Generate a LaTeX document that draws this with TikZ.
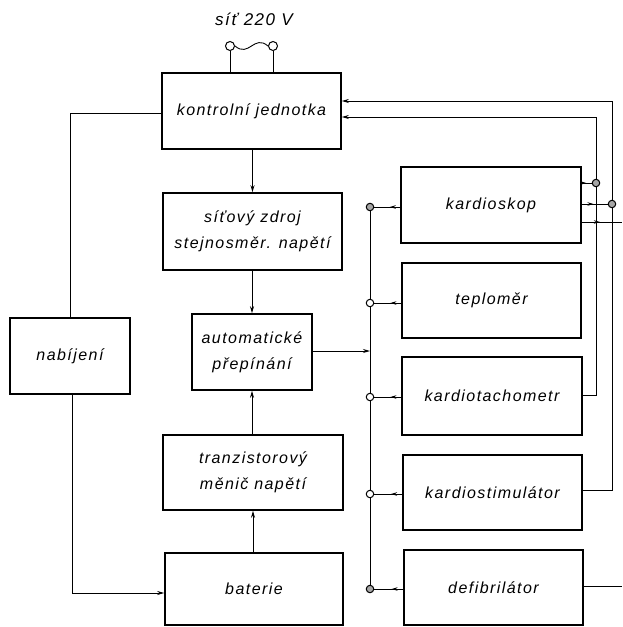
\documentclass[tikz,border=0pt]{standalone}
\usepackage{fontspec}
\setmainfont{Liberation Sans}[LetterSpace=9]
\usetikzlibrary{arrows.meta,decorations.markings}
\tikzset{
  box/.style={draw, line width=1.6pt, inner sep=0pt, align=center,
    font=\itshape\fontsize{16}{26}\selectfont},
  wire/.style={line width=0.9pt},
  arr/.style={wire, -{Stealth[length=7pt,width=4pt]}},
  jack/.style={circle, draw, line width=1pt, minimum size=7.5pt, inner sep=0pt, fill=white},
  jackf/.style={jack, fill=gray!70},
  term/.style={circle, draw, line width=1pt, minimum size=9pt, inner sep=0pt},
  plug/.style={wire, postaction={decorate}, decoration={markings,
    mark=at position 0.4 with {\arrow{Stealth[length=6pt,width=3.5pt]}}}},
  plugr/.style={wire, postaction={decorate}, decoration={markings,
    mark=at position 0.45 with {\arrow{Stealth[length=6pt,width=3.5pt]}}}},
}
\begin{document}
\begin{tikzpicture}[x=1pt,y=-1pt]
\useasboundingbox (0,0) rectangle (622,627);
% boxes
\node[box, minimum width=179pt, minimum height=76pt] (kj) at (251.5,111) {kontrolní jednotka};
\node[box, minimum width=179pt, minimum height=77pt] (sz) at (252.5,231.5) {síťový zdroj\\stejnosměr. napětí};
\node[box, minimum width=120pt, minimum height=76pt] (ap) at (252,352) {automatické\\přepínání};
\node[box, minimum width=180pt, minimum height=75pt] (tm) at (253,472.5) {tranzistorový\\měnič napětí};
\node[box, minimum width=178pt, minimum height=72pt] (bat) at (254,589) {baterie};
\node[box, minimum width=120pt, minimum height=76pt] (nab) at (70,356) {nabíjení};
\node[box, minimum width=180pt, minimum height=76pt] (ks) at (491,205) {kardioskop};
\node[box, minimum width=179pt, minimum height=75pt] (tp) at (491.5,300.5) {teploměr};
\node[box, minimum width=180pt, minimum height=78pt] (kt) at (492,396) {kardiotachometr};
\node[box, minimum width=179pt, minimum height=75pt] (kst) at (492.5,492.5) {kardiostimulátor};
\node[box, minimum width=179pt, minimum height=75pt] (df) at (493.5,587.5) {defibrilátor};
% mains
\node[font=\itshape\fontsize{17}{19}\selectfont] (mains) at (254,19) {síť 220 V};
\node[term] (t1) at (230,46) {};
\node[term] (t2) at (273,46) {};
\draw[wire] (t1) -- (t1 |- kj.north);
\draw[wire] (t2) -- (t2 |- kj.north);
\draw[wire] (t1.east) .. controls (249,58) and (254,34) .. (t2.west);
% main chain
\draw[arr] (kj.south -| sz.north) -- (sz.north);
\draw[arr] (sz.south -| ap.north) -- (ap.north);
\draw[arr] (tm.north -| ap.south) -- (ap.south);
\draw[arr] (bat.north -| tm.south) -- (tm.south);
% charging loop
\coordinate (l1) at (70,113);
\coordinate (l2) at (72,593);
\draw[wire] (kj.west |- l1) -- (l1) -- (l1 |- nab.north);
\draw[arr] (nab.south -| l2) -- (l2) -- (bat.west |- l2);
% feedback lines
\coordinate (o1) at (612,490);
\coordinate (o2) at (612,101);
\coordinate (i1) at (596,395);
\coordinate (i2) at (596,117);
\draw[arr] (kst.east |- o1) -- (o1) -- (o2) -- (kj.east |- o2);
\draw[arr] (kt.east |- i1) -- (i1) -- (i2) -- (kj.east |- i2);
% kardioskop right outputs
\coordinate (e3) at (622,222);
\coordinate (e4) at (622,586);
\draw[plugr] (ks.east |- e3) -- (e3);
\draw[wire] (df.east |- e4) -- (e4);
\node[jackf] (j1) at (596,183) {};
\node[jackf] (j2) at (612,204) {};
\draw[plugr] (ks.east |- j1) -- (j1);
\draw[plugr] (ks.east |- j2) -- (j2);
% bus
\node[jackf] (c1) at (370,207) {};
\node[jack] (c2) at (370,303) {};
\node[jack] (c3) at (370,397) {};
\node[jack] (c4) at (370,494) {};
\node[jackf] (c5) at (370,589) {};
\draw[wire] (c1) -- (c2) -- (c3) -- (c4) -- (c5);
\coordinate (bj) at (370,351);
\draw[arr] (ap.east |- bj) -- (bj);
\draw[plug] (ks.west |- c1) -- (c1);
\draw[plug] (tp.west |- c2) -- (c2);
\draw[plug] (kt.west |- c3) -- (c3);
\draw[plug] (kst.west |- c4) -- (c4);
\draw[plug] (df.west |- c5) -- (c5);
\end{tikzpicture}
\end{document}
